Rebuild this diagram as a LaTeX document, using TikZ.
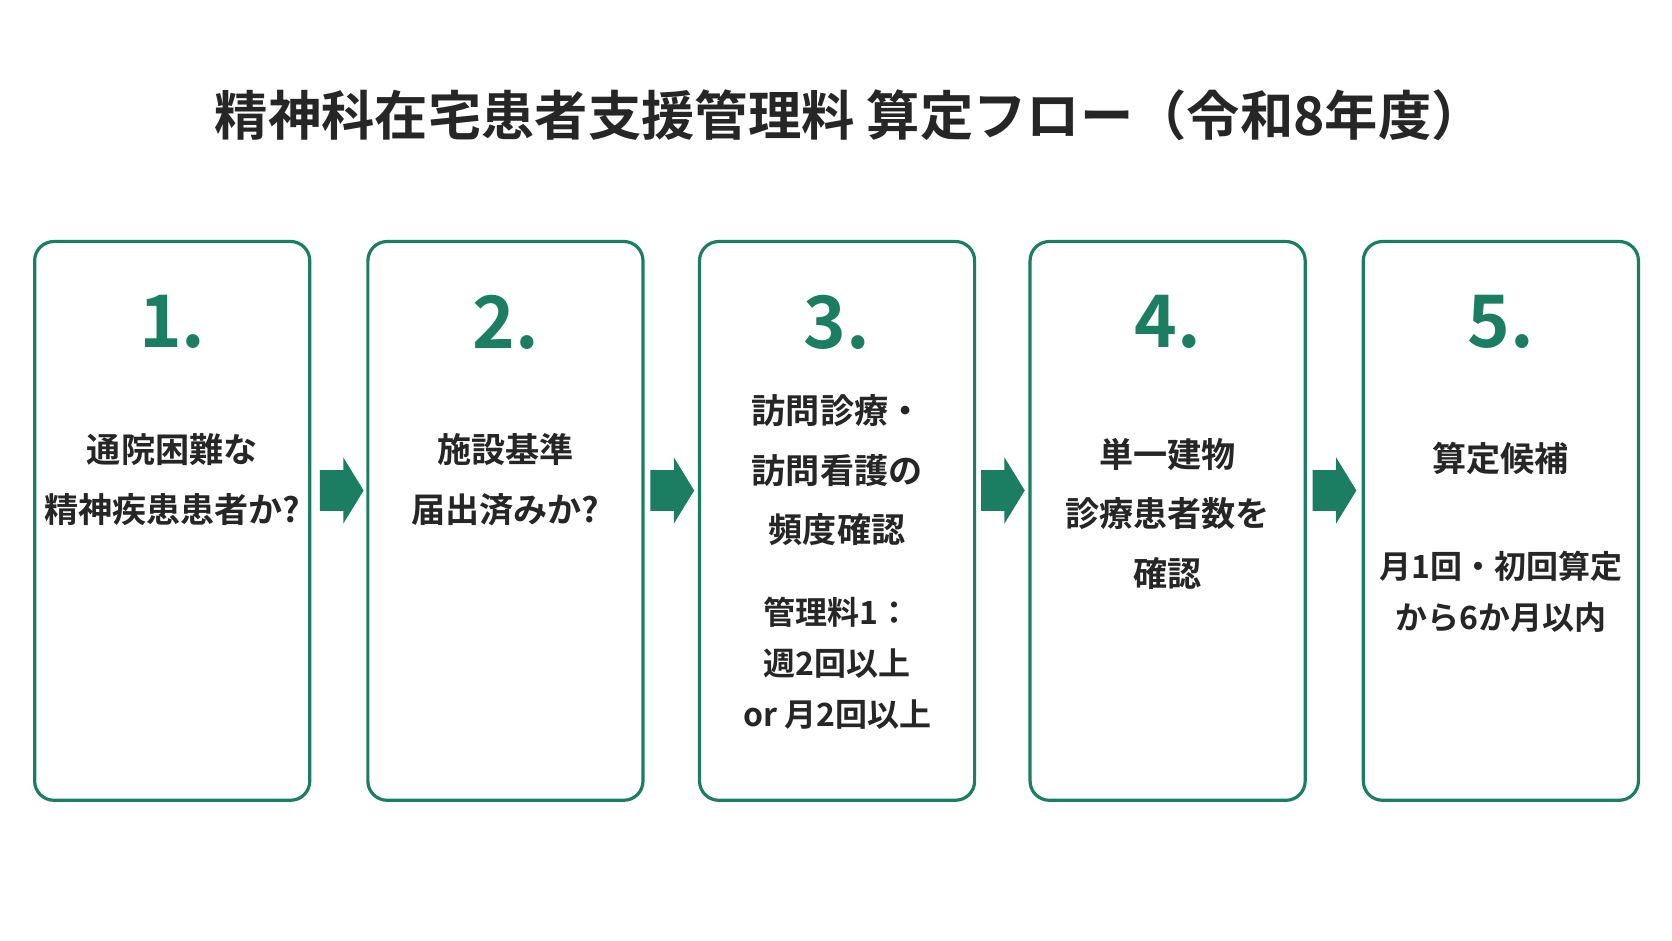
\documentclass[tikz,border=0pt]{standalone}
\usepackage{fontspec}
\newfontfamily\jp{Noto Sans CJK JP}[BoldFont={* Bold}]
\definecolor{grn}{HTML}{1B7D62}
\begin{document}
\begin{tikzpicture}[x=1pt,y=1pt,
  box/.style={draw=grn,line width=3pt,rounded corners=18pt,minimum width=258pt,minimum height=524pt,anchor=north},
  num/.style={text=grn,font=\jp\bfseries\fontsize{68}{70}\selectfont},
  txt/.style={align=center,text=black!85,font=\jp\bfseries\fontsize{32}{56}\selectfont},
  sm/.style={align=center,text=black!85,font=\jp\bfseries\fontsize{30}{48}\selectfont},
  arr/.pic={\fill[grn] (-20,-19) -- (2,-19) -- (2,-31) -- (21,0) -- (2,31) -- (2,19) -- (-20,19) -- cycle;}]
\useasboundingbox (0,0) rectangle (1568,882);
\node[font=\jp\bfseries\fontsize{50}{54}\selectfont,text=black!85] (title) at (797,774) {精神科在宅患者支援管理料 算定フロー（令和8年度）};
\node[box] (b1) at (161.5,657) {};
\node[box] (b2) at (474,657) {};
\node[box] (b3) at (785,657) {};
\node[box] (b4) at (1095,657) {};
\node[box] (b5) at (1407.5,657) {};
\node[num] (n1) at (161.5,580) {1.};
\node[num] (n2) at (474,580) {2.};
\node[num] (n3) at (785,580) {3.};
\node[num] (n4) at (1095,580) {4.};
\node[num] (n5) at (1407.5,580) {5.};
\node[txt] (t1) at (161.5,432) {通院困難な\\精神疾患患者か?};
\node[txt] (t2) at (474,432) {施設基準\\届出済みか?};
\node[txt] (t3) at (785,441) {訪問診療・\\訪問看護の\\頻度確認};
\node[sm] (s3) at (785,260) {管理料1：\\週2回以上\\or 月2回以上};
\node[txt] (t4) at (1095,400) {単一建物\\診療患者数を\\確認};
\node[txt] (t5) at (1407.5,452) {算定候補};
\node[sm] (s5) at (1407.5,327) {月1回・初回算定\\から6か月以内};
\pic (a1) at (320,422) {arr};
\pic (a2) at (630,422) {arr};
\pic (a3) at (940,422) {arr};
\pic (a4) at (1251,422) {arr};
\end{tikzpicture}
\end{document}
